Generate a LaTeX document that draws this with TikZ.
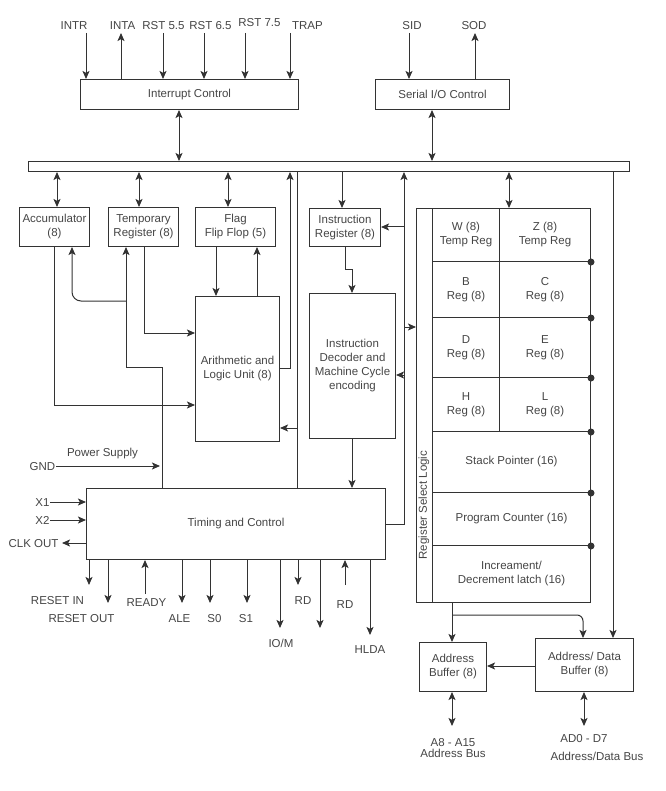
\documentclass[tikz,border=0pt]{standalone}
\usepackage{fontspec}
\setmainfont{Liberation Sans}
\usetikzlibrary{arrows.meta}
\definecolor{lc}{HTML}{333333}
\definecolor{txtc}{HTML}{454545}
\newcommand{\dfont}{\fontsize{11.5}{14}\selectfont}
\begin{document}
\begin{tikzpicture}[x=1pt,y=-1pt,line width=1pt,color=lc,
  box/.style={draw=lc,text=txtc,inner sep=0pt,align=center,anchor=north west,font=\dfont},
  lab/.style={text=txtc,font=\dfont,inner sep=0pt,anchor=base},
  arr/.style={-{Stealth[length=8pt,width=7pt,inset=1.8pt]}},
  darr/.style={{Stealth[length=8pt,width=7pt,inset=1.8pt]}-{Stealth[length=8pt,width=7pt,inset=1.8pt]}},
  dot/.style={circle,fill=lc,draw=none,inner sep=0pt,minimum size=7pt}]
\useasboundingbox (0,0) rectangle (665,791);

% boxes
\node[box,minimum width=218pt,minimum height=30pt] (ic) at (80,79) {Interrupt Control};
\node[box,minimum width=134pt,minimum height=30pt] (sio) at (375,79) {Serial I/O Control};
\node[box,minimum width=601pt,minimum height=10pt] (bus) at (28,161) {};
\node[box,minimum width=70pt,minimum height=39pt] (acc) at (19,207) {Accumulator\\(8)};
\node[box,minimum width=70pt,minimum height=39pt] (tmp) at (108,207) {Temporary\\Register (8)};
\node[box,minimum width=80pt,minimum height=39pt] (flag) at (195,207) {Flag\\Flip Flop (5)};
\node[box,minimum width=71pt,minimum height=38pt] (ir) at (309,208) {Instruction\\Register (8)};
\node[box,minimum width=84pt,minimum height=145pt] (alu) at (195,296) {Arithmetic and\\Logic Unit (8)};
\node[box,minimum width=86pt,minimum height=145pt] (idec) at (309,293) {Instruction\\Decoder and\\Machine Cycle\\encoding};
\node[box,minimum width=299pt,minimum height=71pt] (tcu) at (86,488) {Timing and Control};

% register block
\node[box,minimum width=174pt,minimum height=394pt] (reg) at (416,208) {};
\node[box,minimum width=16pt,minimum height=394pt] (rsl) at (416,208) {};
\node[lab,rotate=90,anchor=center] (rslt) at (424,505) {Register Select Logic};
\node[box,minimum width=67pt,minimum height=53pt] (cW) at (432,208) {W (8)\\Temp Reg};
\node[box,minimum width=91pt,minimum height=53pt] (cZ) at (499,208) {Z (8)\\Temp Reg};
\node[box,minimum width=67pt,minimum height=56pt] (cB) at (432,261) {B\\Reg (8)};
\node[box,minimum width=91pt,minimum height=56pt] (cC) at (499,261) {C\\Reg (8)};
\node[box,minimum width=67pt,minimum height=60pt] (cD) at (432,317) {D\\Reg (8)};
\node[box,minimum width=91pt,minimum height=60pt] (cE) at (499,317) {E\\Reg (8)};
\node[box,minimum width=67pt,minimum height=54pt] (cH) at (432,377) {H\\Reg (8)};
\node[box,minimum width=91pt,minimum height=54pt] (cL) at (499,377) {L\\Reg (8)};
\node[box,minimum width=158pt,minimum height=61pt] (cSP) at (432,431) {Stack Pointer (16)};
\node[box,minimum width=158pt,minimum height=53pt] (cPC) at (432,492) {Program Counter (16)};
\node[box,minimum width=158pt,minimum height=57pt] (cIDL) at (432,545) {Increament/\\Decrement latch (16)};
\node[dot] (d1) at (cZ.south east) {};
\node[dot] (d2) at (cC.south east) {};
\node[dot] (d3) at (cE.south east) {};
\node[dot] (d4) at (cL.south east) {};
\node[dot] (d5) at (cSP.south east) {};
\node[dot] (d6) at (cPC.south east) {};

\node[box,minimum width=67pt,minimum height=49pt] (ab) at (419,642) {Address\\Buffer (8)};
\node[box,minimum width=98pt,minimum height=53pt] (adb) at (535,638) {Address/ Data\\Buffer (8)};

% top labels and signals
\node[lab] (lINTR) at (74,29.5) {INTR};
\node[lab] (lINTA) at (122.5,29.5) {INTA};
\node[lab] (lR55) at (163.5,29.5) {RST 5.5};
\node[lab] (lR65) at (210.5,29.5) {RST 6.5};
\node[lab] (lR75) at (259.5,26.5) {RST 7.5};
\node[lab] (lTRAP) at (307.5,29.5) {TRAP};
\node[lab] (lSID) at (412,30) {SID};
\node[lab] (lSOD) at (474,30) {SOD};
\coordinate (pINTR) at (86,33);
\coordinate (pINTA) at (121,33);
\coordinate (pR55) at (163,33);
\coordinate (pR65) at (204,33);
\coordinate (pR75) at (245,33);
\coordinate (pTRAP) at (290,33);
\coordinate (pSID) at (409,33);
\coordinate (pSOD) at (475,33);
\draw[arr] (pINTR) -- (pINTR |- ic.north);
\draw[arr] (pINTA |- ic.north) -- (pINTA);
\draw[arr] (pR55) -- (pR55 |- ic.north);
\draw[arr] (pR65) -- (pR65 |- ic.north);
\draw[arr] (pR75) -- (pR75 |- ic.north);
\draw[arr] (pTRAP) -- (pTRAP |- ic.north);
\draw[arr] (pSID) -- (pSID |- sio.north);
\draw[arr] (pSOD |- sio.north) -- (pSOD);

% bus connections
\draw[darr] (179,0 |- ic.south) -- (179,0 |- bus.north);
\draw[darr] (432,0 |- sio.south) -- (432,0 |- bus.north);
\draw[darr] (57,0 |- bus.south) -- (57,0 |- acc.north);
\draw[darr] (139,0 |- bus.south) -- (139,0 |- tmp.north);
\draw[darr] (228,0 |- bus.south) -- (228,0 |- flag.north);
\draw[arr] (342,0 |- bus.south) -- (342,0 |- ir.north);
\draw[darr] (509,0 |- bus.south) -- (509,0 |- reg.north);
\draw[arr] (613,0 |- bus.south) -- (613,0 |- adb.north);

% ALU area
\draw[arr] (alu.east |- 0,368) -- (290,368) -- (290,0 |- bus.south);
\draw (297,0 |- tcu.north) -- (297,0 |- bus.south);
\draw[arr] (297,428) -- (alu.east |- 0,428);
\draw[arr] (216,0 |- flag.south) -- (216,0 |- alu.north);
\draw[arr] (257,0 |- alu.north) -- (257,0 |- flag.south);
\draw[arr] (144,0 |- tmp.south) -- (144,333) -- (alu.west |- 0,333);
\draw[arr] (54,0 |- acc.south) -- (54,405) -- (alu.west |- 0,405);
\draw[arr] (162,0 |- tcu.north) -- (162,367) -- (126,367) -- (126,0 |- tmp.south);
\draw[arr,rounded corners=9pt] (126,301) -- (72,301) -- (72,0 |- acc.south);

% instruction path
\draw[arr] (345,0 |- ir.south) -- (345,269) -- (352,269) -- (352,0 |- idec.north);
\draw[arr] (352,0 |- idec.south) -- (352,0 |- tcu.north);
\draw[arr] (tcu.east |- 0,524) -- (404,524) -- (404,0 |- bus.south);
\draw[arr] (404,227) -- (ir.east |- 0,227);
\draw[arr] (404,327) -- (reg.west |- 0,327);
\draw[arr] (404,375) -- (idec.east |- 0,375);

% power and clock
\node[lab] (lPS) at (102.5,456) {Power Supply};
\node[lab] (lGND) at (42.5,470) {GND};
\coordinate (pGND) at (56,466);
\coordinate (pPS) at (160,466);
\draw[arr] (pGND) -- (pPS);
\node[lab] (lX1) at (42.5,506) {X1};
\node[lab] (lX2) at (42.5,524) {X2};
\node[lab] (lCLK) at (33.5,547) {CLK OUT};
\coordinate (pX1) at (50,502);
\coordinate (pX2) at (50,520);
\coordinate (pCLK) at (62,543);
\draw[arr] (pX1) -- (pX1 -| tcu.west);
\draw[arr] (pX2) -- (pX2 -| tcu.west);
\draw[arr] (pCLK -| tcu.west) -- (pCLK);

% bottom signals
\node[lab] (lRI) at (57.5,604) {RESET IN};
\node[lab] (lRO) at (81.5,622) {RESET OUT};
\node[lab] (lRDY) at (146.5,606) {READY};
\node[lab] (lALE) at (179.5,622) {ALE};
\node[lab] (lS0) at (214.5,622) {S0};
\node[lab] (lS1) at (246,622) {S1};
\node[lab] (lIOM) at (281,647) {IO/M};
\node[lab] (lRD1) at (303,604) {RD};
\node[lab] (lRD2) at (345,608) {RD};
\node[lab] (lHLDA) at (370,653) {HLDA};
\coordinate (pRI) at (89,585);
\coordinate (pRO) at (108,603);
\coordinate (pRDY) at (145,594);
\coordinate (pALE) at (182,603);
\coordinate (pS0) at (210,603);
\coordinate (pS1) at (247,603);
\coordinate (pIOM) at (280,628);
\coordinate (pRD1) at (298,585);
\coordinate (pX) at (320,628);
\coordinate (pRD2) at (345,585);
\coordinate (pHLDA) at (370,635);
\draw[arr] (pRI |- tcu.south) -- (pRI);
\draw[arr] (pRO |- tcu.south) -- (pRO);
\draw[arr] (pRDY) -- (pRDY |- tcu.south);
\draw[arr] (pALE |- tcu.south) -- (pALE);
\draw[arr] (pS0 |- tcu.south) -- (pS0);
\draw[arr] (pS1 |- tcu.south) -- (pS1);
\draw[arr] (pIOM |- tcu.south) -- (pIOM);
\draw[arr] (pRD1 |- tcu.south) -- (pRD1);
\draw[arr] (pX |- tcu.south) -- (pX);
\draw[arr] (pRD2) -- (pRD2 |- tcu.south);
\draw[arr] (pHLDA |- tcu.south) -- (pHLDA);

% buffers
\draw[arr] (452,0 |- reg.south) -- (452,0 |- ab.north);
\draw[arr,rounded corners=6pt] (452,615) -- (583,615) -- (583,0 |- adb.north);
\draw[arr] (adb.west |- 0,666) -- (ab.east |- 0,666);
\coordinate (pAB) at (452,726);
\coordinate (pADB) at (584,726);
\draw[darr] (pAB |- ab.south) -- (pAB);
\draw[darr] (pADB |- adb.south) -- (pADB);
\node[lab] (lA8) at (453,746) {A8 - A15};
\node[lab] (lABus) at (453,757.5) {Address Bus};
\node[lab] (lAD) at (584,742) {AD0 - D7};
\node[lab] (lADBus) at (597,760) {Address/Data Bus};
\end{tikzpicture}
\end{document}
